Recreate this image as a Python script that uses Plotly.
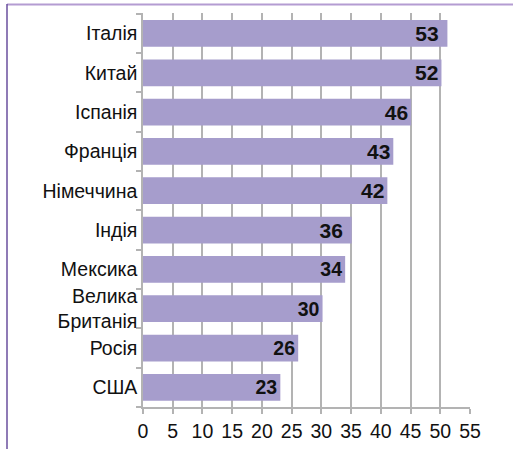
import plotly.graph_objects as go

countries = ["Італія", "Китай", "Іспанія", "Франція", "Німеччина", "Індія",
             "Мексика", "Велика<br>Британія", "Росія", "США"]
bar_values = [51.2, 50.2, 45.1, 42.1, 41.1, 35.1, 34.0, 30.2, 26.1, 23.1]
value_labels = ["53", "52", "46", "43", "42", "36", "34", "30", "26", "23"]
label_sizes = [21, 21, 21, 21, 21, 21, 19.5, 19.5, 19.5, 19.5]
label_pad = [1, 0, 0, 0, 0, 1, 0, 0, 0, 0]
x_ticks = [0, 5, 10, 15, 20, 25, 30, 35, 40, 45, 50, 55]

positions = list(range(len(countries)))
display_text = [t + "\u00a0" * p for t, p in zip(value_labels, label_pad)]

fig = go.Figure(go.Bar(
    x=bar_values, y=positions, orientation="h",
    marker=dict(color="#A69DCC", line=dict(width=0)),
    text=display_text, textposition="inside", insidetextanchor="end",
    textangle=0, constraintext="none",
    textfont=dict(family="Liberation Sans", size=label_sizes, color="#111111", weight="bold"),
    width=0.68, hoverinfo="skip",
))

grid = "#B3B3B3"
W, H = 513, 449
L, R, T, B = 143, 43, 13, 42
pw, ph = W - L - R, H - T - B


def px(x):
    return (x - L) / pw


def py(y):
    return 1 - (y - T) / ph


fig.update_layout(
    width=W, height=H,
    margin=dict(l=L, r=R, t=T, b=B),
    paper_bgcolor="white", plot_bgcolor="white",
    showlegend=False,
    font=dict(family="Liberation Sans", color="#111111"),
    xaxis=dict(range=[0, 55], tickvals=x_ticks, showgrid=True, gridcolor=grid, gridwidth=1.5,
               showline=True, linecolor=grid, linewidth=1.5, ticks="outside", ticklen=5,
               tickcolor=grid, tickwidth=1.5, ticklabelstandoff=1,
               tickfont=dict(size=19.5, color="#111111"), zeroline=False,
               fixedrange=True, automargin=False),
    yaxis=dict(range=[9.5, -0.52], tickvals=positions, ticktext=countries, showgrid=False,
               zeroline=False, showline=True, linecolor=grid, linewidth=1.5, ticks="",
               ticklabelstandoff=0,
               minor=dict(tick0=-0.5, dtick=1, ticks="outside", ticklen=5, tickcolor=grid,
                          tickwidth=1.5, showgrid=False),
               tickfont=dict(size=19.5, color="#111111"), fixedrange=True, automargin=False),
    shapes=[
        dict(type="line", xref="paper", yref="paper", layer="above",
             x0=px(7), x1=px(513), y0=py(4.5), y1=py(4.5),
             line=dict(color="#B49CD2", width=2)),
        dict(type="line", xref="paper", yref="paper", layer="above",
             x0=px(7), x1=px(7), y0=py(4), y1=py(449),
             line=dict(color="#6A4F9E", width=1.5)),
    ],
)

fig.write_html("out.html", config={"displayModeBar": False},
               post_script="document.body.style.margin='0';")
